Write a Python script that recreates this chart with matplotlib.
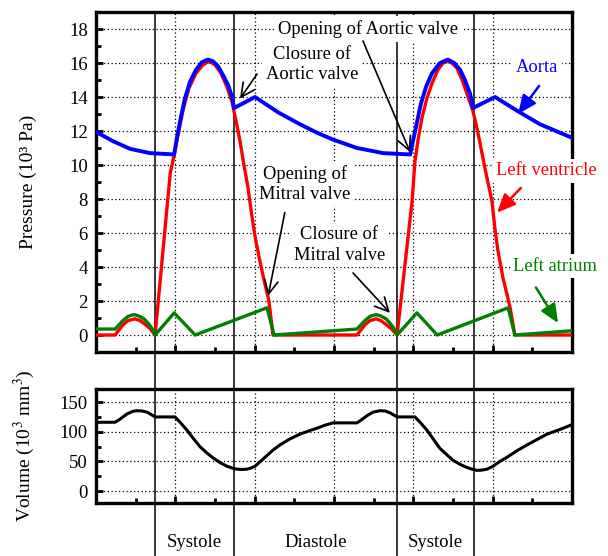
import numpy as np
import matplotlib.pyplot as plt
from matplotlib.lines import Line2D
from matplotlib import transforms

plt.rcParams['font.family'] = ['Liberation Serif', 'DejaVu Serif']
plt.rcParams['mathtext.fontset'] = 'stix'

# time (s) / pressure (10^3 Pa)
t_aorta = [0.0, 0.043, 0.086, 0.136, 0.197, 0.204, 0.214, 0.224, 0.237, 0.252, 0.267,
           0.282, 0.295, 0.308, 0.320, 0.333, 0.343, 0.348, 0.401, 0.459, 0.514,
           0.557, 0.597, 0.658, 0.724, 0.792, 0.799, 0.809, 0.819, 0.832, 0.847,
           0.867, 0.887, 0.903, 0.918, 0.930, 0.943, 0.950, 1.006, 1.061, 1.119, 1.200]
p_aorta = [11.95, 11.4, 10.95, 10.7, 10.62, 11.6, 12.8, 13.9, 14.9, 15.6, 16.05,
           16.2, 16.1, 15.8, 15.3, 14.7, 14.0, 13.35, 14.0, 13.1, 12.4,
           11.9, 11.5, 11.0, 10.7, 10.62, 11.4, 12.5, 13.6, 14.6, 15.4,
           16.0, 16.2, 16.0, 15.6, 15.0, 14.2, 13.35, 14.0, 13.2, 12.4, 11.6]

t_lv = [0.0, 0.048, 0.058, 0.068, 0.081, 0.098, 0.111, 0.124, 0.136, 0.149,
        0.187, 0.197, 0.207, 0.219, 0.234, 0.252, 0.270, 0.285, 0.300, 0.315, 0.330, 0.343,
        0.353, 0.363, 0.373, 0.383, 0.393, 0.401, 0.411, 0.421, 0.436, 0.446,
        0.658, 0.668, 0.678, 0.691, 0.706, 0.718, 0.731, 0.744, 0.759,
        0.797, 0.804, 0.812, 0.822, 0.834, 0.847, 0.862, 0.875, 0.885, 0.897, 0.910,
        0.923, 0.935, 0.950,
        0.960, 0.968, 0.978, 0.986, 0.998, 1.006, 1.013, 1.026, 1.036, 1.044, 1.056, 1.200]
p_lv = [0.0, 0.0, 0.3, 0.6, 0.85, 0.95, 0.85, 0.62, 0.38, 0.0,
        9.5, 10.6, 11.8, 13.2, 14.5, 15.4, 15.9, 16.1, 15.9, 15.4, 14.6, 13.7,
        12.6, 11.4, 10.0, 8.7, 7.0, 5.8, 4.6, 3.5, 2.0, 0.0,
        0.0, 0.3, 0.6, 0.85, 0.95, 0.85, 0.62, 0.38, 0.0,
        7.9, 10.2, 11.5, 12.8, 13.9, 14.8, 15.6, 16.0, 16.1, 16.0, 15.7,
        15.0, 14.2, 13.2,
        12.2, 11.3, 10.1, 9.2, 7.9, 6.2, 5.0, 3.35, 2.4, 1.6, 0.0, 0.0]

t_la = [0.0, 0.048, 0.058, 0.068, 0.081, 0.096, 0.108, 0.121, 0.131, 0.141, 0.149,
        0.197, 0.250, 0.431, 0.449,
        0.658, 0.668, 0.678, 0.691, 0.706, 0.718, 0.731, 0.741, 0.751, 0.759,
        0.809, 0.860, 1.039, 1.056, 1.200]
p_la = [0.35, 0.35, 0.6, 0.85, 1.1, 1.2, 1.12, 0.95, 0.7, 0.4, 0.0,
        1.3, 0.0, 1.6, 0.0,
        0.35, 0.6, 0.85, 1.1, 1.2, 1.12, 0.95, 0.7, 0.4, 0.0,
        1.3, 0.0, 1.6, 0.0, 0.25]

# ventricular volume (10^3 mm^3)
t_vol = [0.0, 0.048, 0.060, 0.078, 0.093, 0.103, 0.116, 0.129, 0.139, 0.149,
         0.199, 0.212, 0.229, 0.245, 0.262, 0.280, 0.295, 0.313, 0.330, 0.343,
         0.355, 0.368, 0.381, 0.391, 0.401, 0.416, 0.431, 0.446, 0.464, 0.489,
         0.514, 0.539, 0.557, 0.577, 0.597, 0.658, 0.671, 0.683, 0.698, 0.716,
         0.729, 0.741, 0.759, 0.804, 0.817, 0.834, 0.850, 0.867, 0.885, 0.900,
         0.918, 0.935, 0.948, 0.960, 0.973, 0.986, 1.001, 1.018, 1.036, 1.061,
         1.087, 1.112, 1.137, 1.170, 1.200]
v_vol = [116, 116, 121, 130, 134.5, 135.5, 135, 133, 129, 125,
         125, 116, 103, 89, 75, 64, 56, 48, 42, 39,
         37, 36.5, 37, 39, 42, 51, 60, 69, 78, 88,
         96, 102, 106, 111, 115, 115, 121, 127, 133, 135.5,
         135, 132, 125, 125, 116, 103, 88, 72, 61, 52,
         45, 40, 37, 35, 35.5, 37, 42, 50, 57, 68,
         78, 87, 96, 104, 112]

valve_t = [0.149, 0.348, 0.759, 0.953]
phases = ['Systole', 'Diastole', 'Systole']

fig = plt.figure(figsize=(6.08, 5.56), dpi=100)
ax1 = fig.add_axes([0.1579, 0.3669, 0.7829, 0.6115])
ax2 = fig.add_axes([0.1579, 0.0953, 0.7829, 0.2050])
ax2.patch.set_visible(False)

for ax in (ax1, ax2):
    ax.set_xlim(0, 1.2)
    ax.set_xticks(np.arange(0, 1.21, 0.2))
    ax.set_xticks(np.arange(0.1, 1.2, 0.2), minor=True)
    ax.tick_params(which='both', direction='in', labelbottom=False, labelsize=13.5,
                   width=2, pad=6)
    ax.tick_params(which='major', length=5)
    ax.tick_params(which='minor', length=3.5)
    ax.grid(True, which='major', color='k', linestyle=(0, (1, 2)), linewidth=0.9)
    ax.set_axisbelow(True)
    for s in ax.spines.values():
        s.set_linewidth(2.4)

line_kw = dict(solid_joinstyle='round', solid_capstyle='round')
ax1.set_ylim(-1, 19)
ax1.set_yticks(np.arange(0, 19, 2))
ax1.set_yticks(np.arange(1, 19, 2), minor=True)
ax1.plot(t_lv, p_lv, color='#ff0000', lw=2.4, zorder=3, **line_kw)
ax1.plot(t_la, p_la, color='#008000', lw=2.4, zorder=4, **line_kw)
ax1.plot(t_aorta, p_aorta, color='#0000ff', lw=2.8, zorder=5, **line_kw)
ax1.set_ylabel('Pressure (10³ Pa)', fontsize=14)
ax1.yaxis.set_label_coords(-0.124, 0.5)

ax2.set_ylim(-20, 172)
ax2.set_yticks([0, 50, 100, 150])
ax2.set_yticks([25, 75, 125], minor=True)
ax2.plot(t_vol, v_vol, color='k', lw=2.2, zorder=3, **line_kw)
ax2.set_ylabel('Volume (10$^3$ mm$^3$)', fontsize=14)
ax2.yaxis.set_label_coords(-0.124, 0.5)

# valve events: solid lines running through both panels
top = ax1.get_position().y1
trans = transforms.blended_transform_factory(ax1.transData, fig.transFigure)
for t in valve_t:
    ax1.add_line(Line2D([t, t], [top, 0], transform=trans, color='k', lw=1.1,
                        clip_on=False, zorder=2))

for i, name in enumerate(phases):
    mid = (valve_t[i] + valve_t[i + 1]) / 2
    fig.text(mid, 0.025, name, transform=trans, ha='center', va='center', fontsize=13.5)

box = dict(boxstyle='square,pad=0.2', fc='white', ec='none')
notes = [
    ('Opening of Aortic valve', (0.686, 18.0), (0.673, 17.3), (0.792, 10.75), 'k'),
    ('Closure of\nAortic valve', (0.545, 15.9), (0.406, 15.35), (0.363, 13.9), 'k'),
    ('Opening of\nMitral valve', (0.527, 8.9), (0.476, 7.2), (0.434, 2.3), 'k'),
    ('Closure of\nMitral valve', (0.613, 5.3), (0.648, 3.65), (0.741, 1.3), 'k'),
    ('Aorta', (1.112, 15.75), (1.117, 14.65), (1.064, 13.0), '#0000ff'),
    ('Left ventricle', (1.136, 9.65), (1.071, 8.65), (1.011, 7.2), '#ff0000'),
    ('Left atrium', (1.158, 4.05), (1.109, 2.8), (1.165, 0.7), '#008000'),
]
for label, pos, tail, head, c in notes:
    ax1.text(pos[0], pos[1], label, ha='center', va='center', fontsize=13.3, color=c,
             bbox=box, zorder=10, clip_on=False, linespacing=1.25)
    if c == 'k':
        style = '->,head_length=0.7,head_width=0.35'
        lw = 1.2
    else:
        style = '-|>,head_length=0.8,head_width=0.35'
        lw = 1.8
    ax1.annotate('', xy=head, xytext=tail, annotation_clip=False,
                 arrowprops=dict(arrowstyle=style, color=c, lw=lw, shrinkA=0, shrinkB=0,
                                 mutation_scale=14), zorder=11)

fig.savefig('out.png', dpi=100)
